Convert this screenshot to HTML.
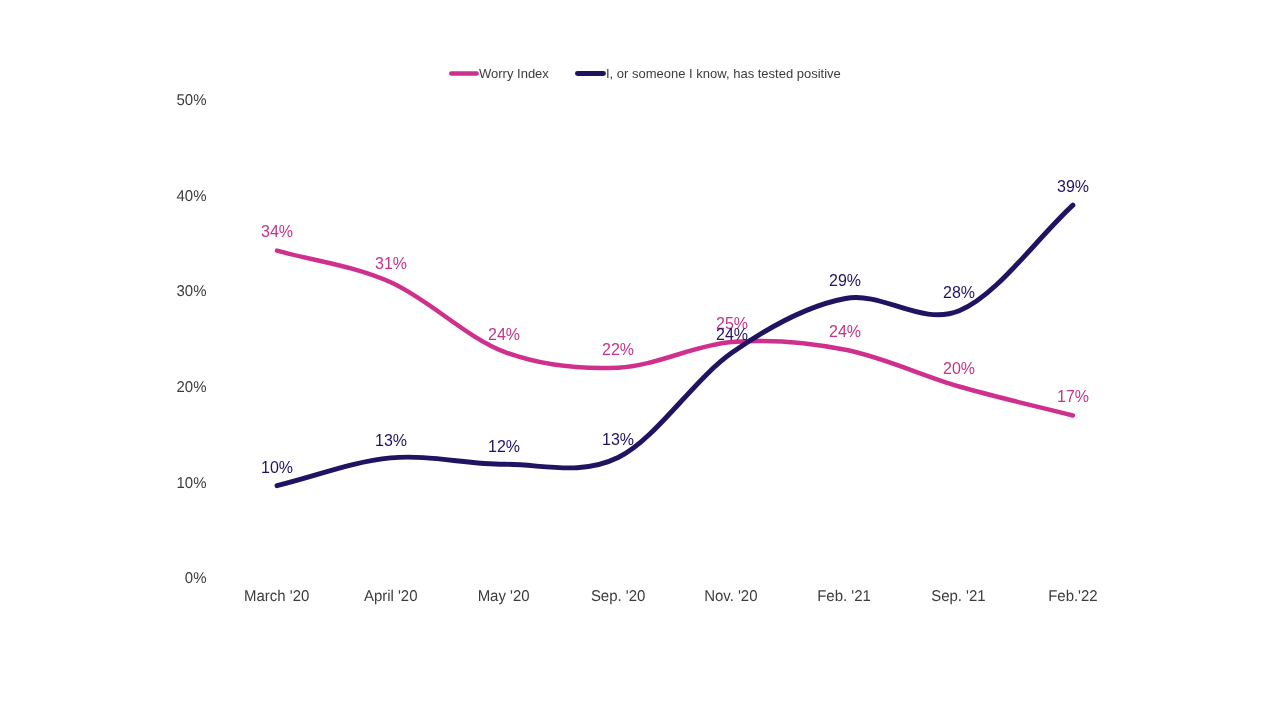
<!DOCTYPE html>
<html lang="en">
<head>
<meta charset="utf-8">
<title>Worry Index vs. tested positive</title>
<style>
html,body{margin:0;padding:0;background:#fff;}
body{width:1280px;height:720px;overflow:hidden;font-family:"Liberation Sans",Arial,sans-serif;}
svg{display:block;position:absolute;left:0;top:0;}
text{font-family:"Liberation Sans",Arial,sans-serif;}
.ax{font-size:15.6px;fill:#3C3C3C;}
.lg{font-size:13px;fill:#3C3C3C;}
.dl{font-size:16px;}
.pk{fill:#C4348A;}
.nv{fill:#201462;}
.ln{fill:none;stroke-width:4.5;stroke-linecap:round;stroke-linejoin:round;}
.lnn{stroke-width:4.9;}
</style>
</head>
<body>
<svg width="1280" height="720" viewBox="0 0 1280 720">
<rect x="0" y="0" width="1280" height="720" fill="#ffffff"/>

<g>
<line class="ln" x1="451.3" y1="73.5" x2="476.6" y2="73.5" stroke="#D0308D"/>
<text class="lg" x="479" y="78">Worry Index</text>
<line class="ln lnn" x1="577.45" y1="73.5" x2="603.45" y2="73.5" stroke="#201462"/>
<text class="lg" x="606" y="78">I, or someone I know, has tested positive</text>
</g>
<g text-anchor="end">
<text class="ax" transform="translate(206.5,105) rotate(0.1) scale(0.96,1)">50%</text>
<text class="ax" transform="translate(206.5,201) rotate(0.1) scale(0.96,1)">40%</text>
<text class="ax" transform="translate(206.5,296) rotate(0.1) scale(0.96,1)">30%</text>
<text class="ax" transform="translate(206.5,392) rotate(0.1) scale(0.96,1)">20%</text>
<text class="ax" transform="translate(206.5,488) rotate(0.1) scale(0.96,1)">10%</text>
<text class="ax" transform="translate(206.5,583) rotate(0.1) scale(0.96,1)">0%</text>
</g>
<g text-anchor="middle">
<text class="ax" transform="translate(276.7,601) rotate(0.1) scale(0.96,1)">March '20</text>
<text class="ax" transform="translate(390.7,601) rotate(0.1) scale(0.96,1)">April '20</text>
<text class="ax" transform="translate(503.6,601) rotate(0.1) scale(0.96,1)">May '20</text>
<text class="ax" transform="translate(618.1,601) rotate(0.1) scale(0.96,1)">Sep. '20</text>
<text class="ax" transform="translate(730.8,601) rotate(0.1) scale(0.96,1)">Nov. '20</text>
<text class="ax" transform="translate(844.0,601) rotate(0.1) scale(0.96,1)">Feb. '21</text>
<text class="ax" transform="translate(958.4,601) rotate(0.1) scale(0.96,1)">Sep. '21</text>
<text class="ax" transform="translate(1072.9,601) rotate(0.1) scale(0.96,1)">Feb.'22</text>
</g>
<path class="ln" stroke="#D0308D" d="M277.00,250.57 C314.90,261.15 352.80,265.42 390.70,282.31 C428.60,299.20 466.50,337.68 504.40,351.91 C542.30,366.13 580.20,369.32 618.10,367.68 C656.00,366.04 693.90,345.05 731.80,342.06 C769.70,339.06 807.60,342.30 845.50,349.71 C883.40,357.12 921.30,375.55 959.20,386.51 C997.10,397.48 1035.00,405.82 1072.90,415.48"/>
<path class="ln lnn" stroke="#201462" d="M277.00,485.65 C314.90,476.41 352.80,461.50 390.70,457.93 C428.60,454.36 466.50,464.30 504.40,464.24 C542.30,464.17 580.20,476.12 618.10,457.54 C656.00,438.97 693.90,379.28 731.80,352.77 C769.70,326.25 807.60,305.46 845.50,298.47 C883.40,291.47 921.30,326.35 959.20,310.80 C997.10,295.25 1035.00,240.37 1072.90,205.16"/>
<g>
<text class="dl pk" x="261" y="237">34%</text>
<text class="dl pk" x="375" y="269">31%</text>
<text class="dl pk" x="488" y="340">24%</text>
<text class="dl pk" x="602" y="355">22%</text>
<text class="dl pk" x="716" y="329">25%</text>
<text class="dl pk" x="829" y="337">24%</text>
<text class="dl pk" x="943" y="374">20%</text>
<text class="dl pk" x="1057" y="402">17%</text>
<text class="dl nv" x="261" y="473">10%</text>
<text class="dl nv" x="375" y="446">13%</text>
<text class="dl nv" x="488" y="452">12%</text>
<text class="dl nv" x="602" y="445">13%</text>
<text class="dl nv" x="716" y="340">24%</text>
<text class="dl nv" x="829" y="286">29%</text>
<text class="dl nv" x="943" y="298">28%</text>
<text class="dl nv" x="1057" y="192">39%</text>
</g>
</svg>
</body>
</html>
